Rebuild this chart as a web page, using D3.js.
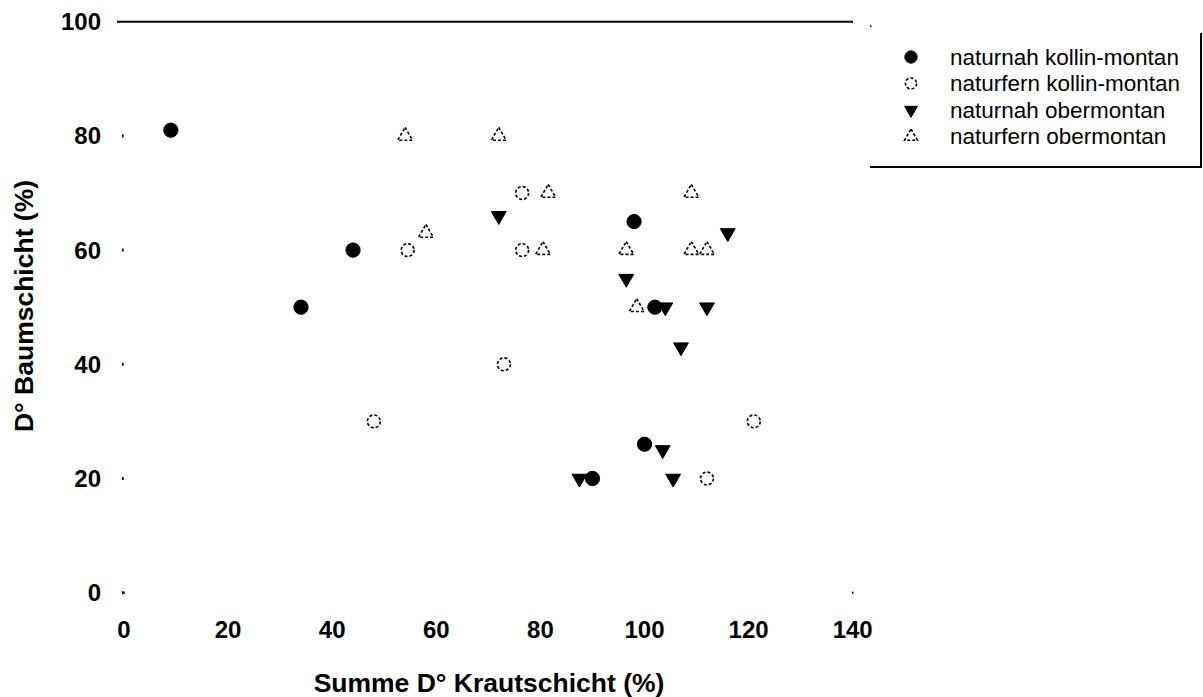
<!DOCTYPE html>
<html>
<head>
<meta charset="utf-8">
<script src="https://cdn.jsdelivr.net/npm/d3@7"></script>
<style>
    body { margin: 0; background: #fff; }
    svg { display: block; }
    text { font-family: "Liberation Sans", Arial, sans-serif; fill: #000; }
</style>
</head>
<body>
<div id="chart"></div>
<script>
// Punkte je Gruppe: [Summe D° Krautschicht, D° Baumschicht]
const nahKollin = [[9, 81], [44, 60], [34, 50], [98, 65], [102, 50], [100, 26], [90, 20]];
const fernKollin = [[54.5, 60], [76.5, 70], [76.5, 60], [73, 40], [48, 30], [121, 30], [112, 20]];
const nahOber = [[72, 66], [116, 63], [96.5, 55], [104, 50], [112, 50], [107, 43], [103.5, 25], [87.5, 20], [105.5, 20]];
const fernOber = [[54, 80], [72, 80], [81.5, 70], [109, 70], [58, 63], [80.5, 60], [96.5, 60], [109, 60], [112, 60], [98.5, 50]];

const legendLabels = ["naturnah kollin-montan", "naturfern kollin-montan", "naturnah obermontan", "naturfern obermontan"];
const xTicks = [0, 20, 40, 60, 80, 100, 120, 140];
const yTicks = [0, 20, 40, 60, 80, 100];

const width = 1203;
const height = 697;

const svg = d3.select("#chart")
    .append("svg")
    .attr("width", width)
    .attr("height", height);

const x = d3.scaleLinear().domain([0, 140]).range([124, 852.7]);
const y = d3.scaleLinear().domain([0, 100]).range([592.7, 21.7]);

// Linie oben bei 100
svg.append("line")
    .attr("x1", 117).attr("x2", 853)
    .attr("y1", y(100)).attr("y2", y(100))
    .attr("stroke", "#000").attr("stroke-width", 2);

svg.append("rect")
    .attr("x", 870).attr("y", 25.5).attr("width", 1.5).attr("height", 1.5)
    .attr("fill", "#000");

// kleine Tickpunkte
svg.selectAll(".ytick")
    .data(yTicks.filter(d => d < 100))
    .enter().append("rect")
    .attr("class", "ytick")
    .attr("x", 122).attr("y", d => y(d) - 1.5)
    .attr("width", 1.6).attr("height", 3)
    .attr("fill", "#000");

svg.selectAll(".xtick")
    .data([0, 140])
    .enter().append("rect")
    .attr("class", "xtick")
    .attr("x", d => x(d) - 0.8).attr("y", y(0) - 1)
    .attr("width", 1.6).attr("height", 2)
    .attr("fill", "#000");

// Achsenbeschriftungen
svg.selectAll(".ylabel")
    .data(yTicks)
    .enter().append("text")
    .attr("class", "ylabel")
    .attr("x", 101)
    .attr("y", d => y(d))
    .attr("dy", "0.35em")
    .attr("text-anchor", "end")
    .attr("font-size", 24)
    .attr("font-weight", "bold")
    .text(d => d);

svg.selectAll(".xlabel")
    .data(xTicks)
    .enter().append("text")
    .attr("class", "xlabel")
    .attr("x", d => x(d))
    .attr("y", 630)
    .attr("dy", "0.35em")
    .attr("text-anchor", "middle")
    .attr("font-size", 24)
    .attr("font-weight", "bold")
    .text(d => d);

svg.append("text")
    .attr("x", 489).attr("y", 683)
    .attr("dy", "0.35em")
    .attr("text-anchor", "middle")
    .attr("font-size", 26.5)
    .attr("font-weight", "bold")
    .text("Summe D° Krautschicht (%)");

svg.append("text")
    .attr("transform", "translate(24,306) rotate(-90)")
    .attr("dy", "0.35em")
    .attr("text-anchor", "middle")
    .attr("font-size", 26.5)
    .attr("font-weight", "bold")
    .text("D° Baumschicht (%)");

// Symbole
const styles = [
    { type: d3.symbolCircle, size: 160, fill: "#000", rot: 0 },
    { type: d3.symbolCircle, size: 130, fill: "none", rot: 0 },
    { type: d3.symbolTriangle, size: 95, fill: "#000", rot: 180 },
    { type: d3.symbolTriangle, size: 95, fill: "none", rot: 0 }
];
const groups = [nahKollin, fernKollin, nahOber, fernOber];

function drawMarker(sel, s) {
    sel.attr("d", d3.symbol().type(s.type).size(s.size))
        .attr("fill", s.fill)
        .attr("stroke", "#000")
        .attr("stroke-width", s.fill === "none" ? 1.6 : 1)
        .attr("stroke-dasharray", s.fill === "none" ? "3 2" : null);
}

groups.forEach((pts, i) => {
    svg.selectAll(".pt" + i)
        .data(pts)
        .enter().append("path")
        .attr("class", "pt" + i)
        .attr("transform", d => `translate(${x(d[0])},${y(d[1])}) rotate(${styles[i].rot})`)
        .call(drawMarker, styles[i]);
});

// Legende
svg.append("line")
    .attr("x1", 1201).attr("x2", 1201).attr("y1", 33).attr("y2", 167)
    .attr("stroke", "#000").attr("stroke-width", 2);
svg.append("line")
    .attr("x1", 870).attr("x2", 1202).attr("y1", 167).attr("y2", 167)
    .attr("stroke", "#000").attr("stroke-width", 2);

const legend = svg.selectAll(".legend")
    .data(legendLabels)
    .enter().append("g")
    .attr("class", "legend")
    .attr("transform", (d, i) => `translate(0,${57 + i * 26.5})`);

legend.append("path")
    .attr("transform", (d, i) => `translate(911,0) rotate(${styles[i].rot})`)
    .each(function (d, i) {
        d3.select(this).call(drawMarker, Object.assign({}, styles[i], { size: styles[i].size * 0.75 }));
    });

legend.append("text")
    .attr("x", 950)
    .attr("dy", "0.35em")
    .attr("font-size", 22.5)
    .text(d => d);
</script>
</body>
</html>
